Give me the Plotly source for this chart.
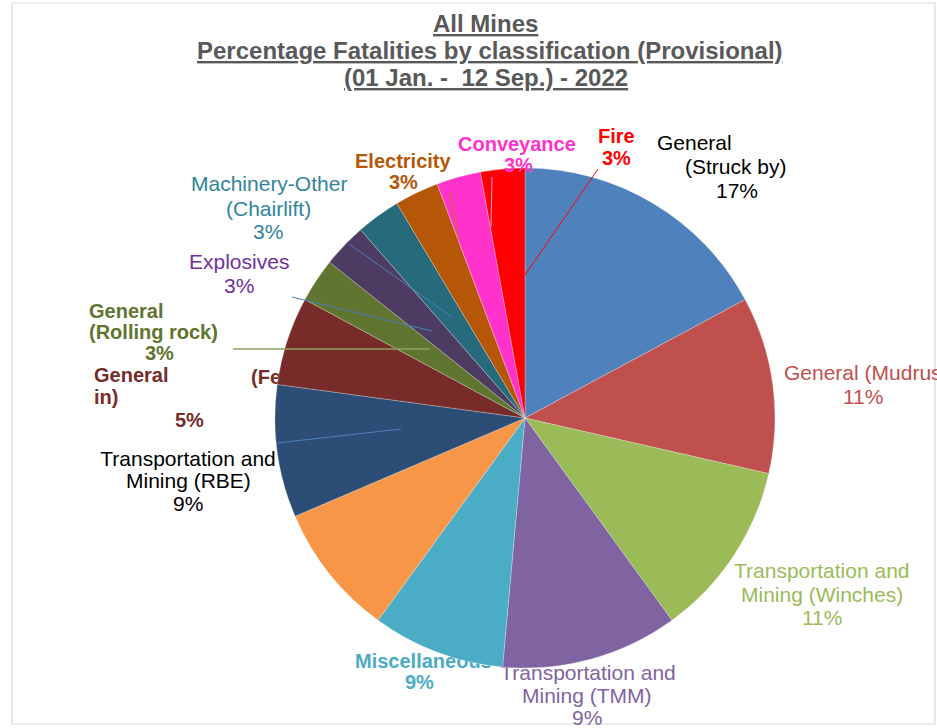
import plotly.graph_objects as go

# ---------------- data ----------------
categories = [
    "General (Struck by)", "General (Mudrush)", "Transportation and Mining (Winches)",
    "Transportation and Mining (TMM)", "Miscellaneous", "Other",
    "Transportation and Mining (RBE)", "General (Fell in)", "General (Rolling rock)",
    "Explosives", "Machinery-Other (Chairlift)", "Electricity", "Conveyance", "Fire",
]
fatalities = [6, 4, 4, 4, 3, 3, 3, 2, 1, 1, 1, 1, 1, 1]
pct_labels = ["17%", "11%", "11%", "9%", "9%", "9%", "9%", "5%", "3%", "3%", "3%", "3%", "3%", "3%"]
slice_colors = [
    "#4F81BD", "#C0504D", "#9BBB59", "#8064A2", "#4BACC6", "#F79646",
    "#2C4D75", "#772C2A", "#5F7530", "#4D3B62", "#276A7C", "#B65708", "#FF33CC", "#FF0000",
]
title_lines = ["All Mines", "Percentage Fatalities by classification (Provisional)",
               "(01 Jan. -  12 Sep.) - 2022"]

# ---------------- layout helpers ----------------
W, H = 937, 728
FONT = "Liberation Sans, Arial, sans-serif"
RS = 21  # regular label size
BS = 20  # bold label size


def px(x):
    return x / W


def py(y):
    return 1 - y / H


fig = go.Figure(go.Pie(
    labels=categories, values=fatalities, sort=False, direction="clockwise", rotation=0,
    marker=dict(colors=slice_colors, line=dict(color="rgba(255,255,255,0.5)", width=0.5)),
    textinfo="none", hoverinfo="label+value+percent", showlegend=False,
    domain=dict(x=[px(275), px(775)], y=[py(668), py(168)]),
))

annotations = []
shapes = []

# border
shapes.append(dict(type="rect", xref="paper", yref="paper", x0=px(12), x1=px(935),
                   y0=py(724), y1=py(3), line=dict(color="#D9D9D9", width=1.2), layer="below"))

# title
for t, (cx, cy) in zip(title_lines, [(486, 24), (490, 51), (486, 78)]):
    annotations.append(dict(text=f"<u><b>{t}</b></u>", x=px(cx), y=py(cy), xref="paper", yref="paper",
                            xanchor="center", yanchor="middle", showarrow=False,
                            font=dict(family=FONT, size=24, color="#595959")))


def lab(text, x, y, color, bold=False, anchor="center", size=None):
    size = size or (BS if bold else RS)
    t = f"<b>{text}</b>" if bold else text
    annotations.append(dict(text=t, x=px(x), y=py(y), xref="paper", yref="paper",
                            xanchor=anchor, yanchor="middle", showarrow=False,
                            font=dict(family=FONT, size=size, color=color)))


def lab_below(text, x, y, color, bold=False, anchor="center", size=None):
    size = size or (BS if bold else RS)
    t = f"<b>{text}</b>" if bold else text
    if anchor == "center":
        x0, x1, pos = x - 150, x + 150, "middle center"
    else:
        x0, x1, pos = x, x + 300, "middle left"
    shapes.append(dict(type="rect", xref="paper", yref="paper", x0=px(x0), x1=px(x1),
                       y0=py(y + 12), y1=py(y - 12), line=dict(width=0),
                       fillcolor="rgba(0,0,0,0)", layer="below",
                       label=dict(text=t, textposition=pos, padding=0,
                                  font=dict(family=FONT, size=size, color=color))))


# slice labels
lab("General", 655, 143, "#000000", anchor="left")
lab("(Struck by)", 736, 167, "#000000")
lab(pct_labels[0], 737, 191, "#000000")

lab("General (Mudrush)", 872, 373, "#C0504D")
lab(pct_labels[1], 863, 397, "#C0504D")

lab("Transportation and", 822, 570, "#9BBB59")
lab("Mining (Winches)", 822, 594, "#9BBB59")
lab(pct_labels[2], 822, 617, "#9BBB59")

lab_below("Transportation and", 588, 670, "#8064A2")
lab("Mining (TMM)", 587, 695, "#8064A2")
lab(pct_labels[3], 587, 717, "#8064A2")

lab_below("Miscellaneous", 352, 659, "#4BACC6", bold=True, anchor="left")
lab(pct_labels[4], 419, 682, "#4BACC6", bold=True)

lab_below("Transportation and", 188, 456, "#000000")
lab("Mining (RBE)", 188, 480, "#000000")
lab(pct_labels[6], 188, 503, "#000000")

lab("General", 92, 375, "#772C2A", bold=True, anchor="left")
lab_below("(Fell", 248, 375, "#772C2A", bold=True, anchor="left")
lab("in)", 92, 397, "#772C2A", bold=True, anchor="left")
lab(pct_labels[7], 189, 420, "#772C2A", bold=True)

lab("General", 87, 311, "#5F7530", bold=True, anchor="left")
lab("(Rolling rock)", 87, 332, "#5F7530", bold=True, anchor="left")
lab(pct_labels[8], 159, 353, "#5F7530", bold=True)

lab("Explosives", 239, 261, "#7030A0")
lab(pct_labels[9], 239, 286, "#7030A0")

lab("Machinery-Other", 269, 183, "#31859C")
lab("(Chairlift)", 268, 208, "#31859C")
lab(pct_labels[10], 268, 232, "#31859C")

lab("Electricity", 403, 161, "#B65708", bold=True)
lab(pct_labels[11], 403, 182, "#B65708", bold=True)

lab("Conveyance", 517, 144, "#FF33CC", bold=True)
lab(pct_labels[12], 518, 165, "#FF33CC", bold=True)

lab("Fire", 616, 136, "#FF0000", bold=True)
lab(pct_labels[13], 616, 158, "#FF0000", bold=True)

# leader lines
leaders = [
    ((598, 169), (525, 275), "#FF0000", 1),
    ((492, 177), (491, 227), "#FF99E6", 1),
    ((450, 192), (459, 240), "#C8701E", 1),
    ((349, 244), (452, 317), "#4A7EBB", 1),
    ((292, 297), (432, 331), "#4A7EBB", 1),
    ((233, 349), (430, 349), "#8EA05F", 1.5),
    ((277, 443), (401, 429), "#4F81BD", 1),
]
for (x0, y0), (x1, y1), c, w in leaders:
    shapes.append(dict(type="line", xref="paper", yref="paper", x0=px(x0), y0=py(y0),
                       x1=px(x1), y1=py(y1), line=dict(color=c, width=w), layer="above"))

fig.update_layout(
    width=W, height=H, margin=dict(l=0, r=0, t=0, b=0),
    paper_bgcolor="white", plot_bgcolor="white",
    annotations=annotations, shapes=shapes, showlegend=False,
)

fig.write_html("out.html", config={"displayModeBar": False},
               post_script="document.body.style.margin='0';document.body.style.padding='0';")
